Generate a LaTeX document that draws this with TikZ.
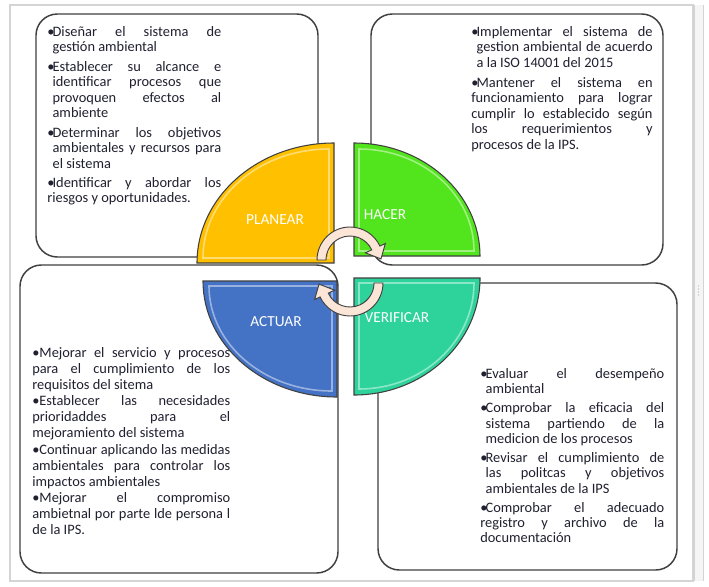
\documentclass[tikz,border=0pt]{standalone}
\usepackage{fontspec}
\setmainfont{Carlito}
\usepackage{xcolor}
\usepackage{tikz}

\definecolor{cplanear}{RGB}{255,192,0}
\definecolor{chacer}{RGB}{82,228,28}
\definecolor{cactuar}{RGB}{68,114,196}
\definecolor{cverificar}{RGB}{46,211,155}
\definecolor{cflecha}{RGB}{251,229,214}
\definecolor{cborde}{RGB}{64,64,64}
\definecolor{ctexto}{RGB}{32,32,48}
\definecolor{cmarco}{RGB}{212,212,212}

\newcommand{\pto}{\hangindent=4pt\hangafter=1\makebox[4pt][l]{\textbullet}}
\newcommand{\ajuste}[1]{\setlength{\parindent}{0pt}\setlength{\parskip}{#1}}

\begin{document}
\begin{tikzpicture}[x=0.75pt,y=0.75pt,
	caja/.style={draw=cborde,line width=1.1pt,rounded corners=16pt,fill=white},
	cuarto/.style={draw=cborde,line width=0.8pt},
	brillo/.style={draw=white,line width=1.2pt,opacity=0.45},
	flecha/.style={draw=cborde,line width=0.7pt,fill=cflecha},
	etiqueta/.style={text=white,font=\fontsize{11.5}{12}\selectfont},
	texto/.style={anchor=north west,inner sep=0pt,align=justify,text=ctexto,
		font=\fontsize{10.8}{11.6}\selectfont}]
			% Marco
			\useasboundingbox (0,0) rectangle (709,-586);
			\fill[white] (0,0) rectangle (709,-586);
			\draw[cmarco,line width=0.8pt] (10,-5) rectangle (693,-581);
			\fill[black!4] (694,-5) rectangle (703,-581);
			\draw[cmarco] (694,-5) -- (694,-581) (703,-5) -- (703,-581);
			\foreach \y in {286,289,292,295}
				\fill[black!30] (698.5,-\y) circle (0.6);
			% Cajas
			\draw[caja] (36,-14) rectangle (318,-257);
			\draw[caja] (371,-14) rectangle (663,-265);
			\draw[caja] (20,-265) rectangle (338,-573);
			\draw[caja] (378,-283) rectangle (677,-570);
			% Cuartos de circulo
			\draw[cuarto,fill=cplanear] (334,-263) -- (197,-263) arc[start angle=180,end angle=90,x radius=137,y radius=120] -- cycle;
			\draw[brillo] (329,-258) -- (203,-258) arc[start angle=180,end angle=90,x radius=126,y radius=109] -- cycle;
			\draw[cuarto,fill=chacer] (354,-256) -- (354,-143) arc[start angle=90,end angle=0,x radius=126,y radius=113] -- cycle;
			\draw[brillo] (359,-251) -- (359,-149) arc[start angle=90,end angle=0,x radius=115,y radius=102] -- cycle;
			\draw[cuarto,fill=cactuar] (337,-281) -- (203,-281) arc[start angle=180,end angle=270,x radius=134,y radius=116] -- cycle;
			\draw[brillo] (332,-286) -- (209,-286) arc[start angle=180,end angle=270,x radius=123,y radius=105] -- cycle;
			\draw[cuarto,fill=cverificar] (354,-278) -- (480,-278) arc[start angle=0,end angle=-90,x radius=126,y radius=117] -- cycle;
			\draw[brillo] (359,-283) -- (474,-283) arc[start angle=0,end angle=-90,x radius=115,y radius=106] -- cycle;
			\node[etiqueta] (planear) at (275,-220) {PLANEAR};
			\node[etiqueta] (hacer) at (385,-215) {HACER};
			\node[etiqueta] (actuar) at (276,-322) {ACTUAR};
			\node[etiqueta] (verificar) at (397,-318) {VERIFICAR};
			% Flechas del ciclo
			\coordinate (c1) at (350,-260);
			\coordinate (c2) at (350,-283);
			\draw[flecha] ([shift={(180:33)}]c1) arc[start angle=180,end angle=25,radius=33]
				-- ([shift={(25:39)}]c1) -- ([shift={(2:31)}]c1) -- ([shift={(25:17)}]c1)
				-- ([shift={(25:24)}]c1) arc[start angle=25,end angle=180,radius=24] -- cycle;
			\draw[flecha] ([shift={(0:33)}]c2) arc[start angle=0,end angle=-155,radius=33]
				-- ([shift={(-155:39)}]c2) -- ([shift={(-178:31)}]c2) -- ([shift={(-155:17)}]c2)
				-- ([shift={(-155:24)}]c2) arc[start angle=-155,end angle=0,radius=24] -- cycle;
			% Textos
			\node[texto,text width=130.5pt] (txtplanear) at (47,-26) {\ajuste{3pt}%
				\pto Diseñar el sistema de\linebreak gestión ambiental\par
				\pto Establecer su alcance e\linebreak identificar procesos que\linebreak provoquen efectos al\linebreak ambiente\par
				\pto Determinar los objetivos\linebreak ambientales y recursos para\linebreak el sistema\par
				\pto Identificar y abordar los\linebreak riesgos y oportunidades.};
			\node[texto,text width=136pt] (txthacer) at (471,-26) {\ajuste{3.5pt}%
				\pto Implementar el sistema de\linebreak gestion ambiental de acuerdo\linebreak a la ISO 14001 del 2015\par
				\pto Mantener el sistema en\linebreak funcionamiento para lograr\linebreak cumplir lo establecido según\linebreak los requerimientos y\linebreak procesos de la IPS.};
			\node[texto,text width=148.5pt,font=\fontsize{10.8}{12.1}\selectfont] (txtactuar) at (32,-347) {\ajuste{0pt}%
				\textbullet Mejorar el servicio y procesos\linebreak para el cumplimiento de los\linebreak requisitos del sitema\par
				\textbullet Establecer las necesidades\linebreak prioridaddes para el\linebreak mejoramiento del sistema\par
				\textbullet Continuar aplicando las medidas\linebreak ambientales para controlar los\linebreak impactos ambientales\par
				\textbullet Mejorar el compromiso\linebreak ambietnal por parte lde persona l\linebreak de la IPS.};
			\node[texto,text width=138pt] (txtverificar) at (480,-368) {\ajuste{2.5pt}%
				\pto Evaluar el desempeño\linebreak ambiental\par
				\pto Comprobar la eficacia del\linebreak sistema partiendo de la\linebreak medicion de los procesos\par
				\pto Revisar el cumplimiento de\linebreak las politcas y objetivos\linebreak ambientales de la IPS\par
				\pto Comprobar el adecuado\linebreak registro y archivo de la\linebreak documentación};
		\end{tikzpicture}
\end{document}
